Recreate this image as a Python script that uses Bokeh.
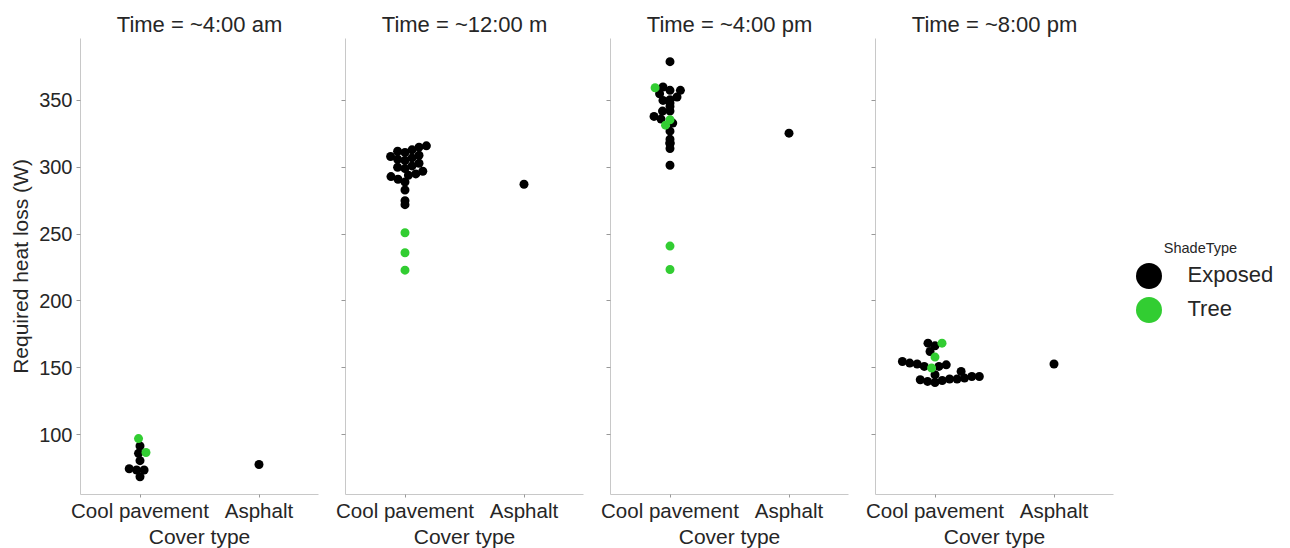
import numpy as np
from bokeh.plotting import figure
from bokeh.layouts import row
from bokeh.models import (Range1d, FixedTicker, Legend, LegendItem, Label,
                          ColumnDataSource)
from bokeh.embed import file_html
from bokeh.resources import INLINE

# ---------------- data ----------------
titles = ["Time = ~4:00 am", "Time = ~12:00 m", "Time = ~4:00 pm", "Time = ~8:00 pm"]
categories = ["Cool pavement", "Asphalt"]
shade_types = ["Exposed", "Tree"]
legend_title = "ShadeType"

cool_exposed = [
    [91.5, 86, 80.5, 74.5, 73.5, 73.5, 68.5],
    [316, 315, 313, 312, 311, 309, 308, 307, 306, 305, 303, 301, 300, 299,
     297, 295, 294, 293, 291, 289, 283, 275, 272],
    [379, 360, 357.5, 357.5, 355, 352.5, 350.5, 350, 348, 345.5, 342, 342,
     338, 336, 333, 327, 321, 318.5, 318, 317.5, 314, 301.5],
    [168.4, 166.4, 162.2, 154.7, 153.5, 152.8, 152.2, 151, 151, 147.3, 144.8,
     143.5, 143.5, 142.3, 141.6, 141.6, 141, 140.5, 139.8, 139],
]
cool_tree = [
    [97, 86.6],
    [251, 236, 223],
    [359.5, 335.5, 331.5, 241, 223.5],
    [168.4, 158, 149.8],
]
asphalt_exposed = [77.6, 287.3, 325.5, 152.8]

y_ticks = [100, 150, 200, 250, 300, 350]
y_min, y_max = 55.2, 396.3

# ---------------- style ----------------
FONT = "Liberation Sans"
TEXT = "#262626"
AXIS = "#c8c8c8"
COLORS = {"Exposed": "#000000", "Tree": "#32cd32"}
FRAME_W, FRAME_H = 238, 456
MARKER = 9
SWARM_D = 7.5


def swarm(vals, d, ypx):
    """beeswarm offsets in pixels"""
    v = np.asarray(vals, dtype=float) * ypx
    order = np.argsort(v, kind="stable")
    xs = np.zeros(len(v))
    placed = []
    for i in order:
        y = v[i]
        nb = [(px, py) for px, py in placed if abs(py - y) < d]
        cands = [0.0]
        for px, py in nb:
            dx = np.sqrt(max(d * d - (y - py) ** 2, 0))
            cands += [px - dx, px + dx]
        cands = sorted(set(round(c, 6) for c in cands), key=lambda c: (abs(c), c))
        for c in cands:
            if all((c - px) ** 2 + (y - py) ** 2 >= d * d - 1e-6 for px, py in nb):
                xs[i] = c
                break
        placed.append((xs[i], y))
    return xs


ypx = FRAME_H / (y_max - y_min)
xpx = FRAME_W / 2.0

figs = []
for k in range(4):
    first = k == 0
    p = figure(
        frame_width=FRAME_W, frame_height=FRAME_H,
        x_range=Range1d(0, 2), y_range=Range1d(y_min, y_max),
        output_backend="svg", toolbar_location=None,
        min_border_left=80 if first else 22,
        min_border_right=5 if k < 3 else 2,
        min_border_top=38, min_border_bottom=52,
        title=titles[k],
    )
    p.outline_line_color = None
    p.grid.grid_line_color = None
    p.background_fill_color = "white"
    p.border_fill_color = "white"
    p.title.text_font = FONT
    p.title.text_font_size = "22px"
    p.title.text_font_style = "normal"
    p.title.text_color = TEXT
    p.title.align = "center"
    p.title.standoff = 4

    # x axis
    xa = p.xaxis[0]
    xa.ticker = FixedTicker(ticks=[0.5, 1.5])
    xa.major_label_overrides = {0.5: categories[0], 1.5: categories[1]}
    xa.axis_label = "Cover type"
    xa.minor_tick_line_color = None

    # y axis
    ya = p.yaxis[0]
    ya.ticker = FixedTicker(ticks=y_ticks)
    ya.minor_tick_line_color = None
    if first:
        ya.axis_label = "Required heat loss (W)"
    else:
        ya.major_label_overrides = {t: "" for t in y_ticks}
        ya.major_label_standoff = 0

    for ax in (xa, ya):
        ax.axis_line_color = AXIS
        ax.major_tick_line_color = "#999999"
        ax.major_tick_in = 0
        ax.major_tick_out = 4
        ax.axis_label_text_font = FONT
        ax.axis_label_text_font_size = "21px"
        ax.axis_label_text_font_style = "normal"
        ax.axis_label_text_color = TEXT
        ax.major_label_text_font = FONT
        ax.major_label_text_color = TEXT
    xa.major_tick_out = 3
    xa.major_label_text_font_size = "20.5px"
    xa.major_label_standoff = 1
    xa.axis_label_standoff = 0
    ya.major_label_text_font_size = "20px"
    if first:
        ya.major_label_standoff = 4
        ya.axis_label_standoff = 4

    # swarm for cool pavement (both hue groups together)
    vals = list(cool_exposed[k]) + list(cool_tree[k])
    hues = ["Exposed"] * len(cool_exposed[k]) + ["Tree"] * len(cool_tree[k])
    offs = swarm(vals, SWARM_D, ypx) / xpx
    xs = 0.5 + offs
    vals = np.asarray(vals)
    hues = np.asarray(hues)
    for h in shade_types:
        m = hues == h
        p.scatter(xs[m], vals[m], size=MARKER, color=COLORS[h], line_color=None)
    # asphalt
    p.scatter([1.5], [asphalt_exposed[k]], size=MARKER,
              color=COLORS["Exposed"], line_color=None)
    figs.append(p)

# ---------------- legend panel ----------------
LW = 175
lg = figure(width=LW, height=548, output_backend="svg", toolbar_location=None,
            min_border=0, x_range=Range1d(0, 1), y_range=Range1d(0, 1))
lg.axis.visible = False
lg.grid.grid_line_color = None
lg.outline_line_color = None
lg.border_fill_color = "white"
lg.background_fill_color = "white"

FRAME_BOTTOM = 494  # page y of the (aligned) frame bottom
row_y = {"Exposed": FRAME_BOTTOM - 309.5, "Tree": FRAME_BOTTOM - 343.5}
for h in shade_types:
    # legend-only renderer: NaN position, so nothing is drawn in the plot
    src = ColumnDataSource(dict(x=[np.nan], y=[np.nan]))
    r = lg.scatter("x", "y", source=src, size=MARKER, color=COLORS[h],
                   line_color=None)
    leg = Legend(items=[LegendItem(label=h, renderers=[r])],
                 location=(0.5, row_y[h]))
    leg.label_text_font = FONT
    leg.label_text_font_size = "22px"
    leg.label_text_color = TEXT
    leg.glyph_width = 65
    leg.glyph_height = 65
    leg.label_standoff = 7
    leg.padding = 0
    leg.margin = 0
    leg.border_line_color = None
    leg.background_fill_alpha = 0
    lg.add_layout(leg)

lg.add_layout(Label(x=85, y=FRAME_BOTTOM - 249, x_units="screen", y_units="screen",
                    text=legend_title, text_align="center",
                    text_baseline="middle", text_font=FONT,
                    text_font_size="14.5px", text_color=TEXT))
figs.append(lg)

layout = row(*figs, spacing=0)
open("out.html", "w").write(file_html(layout, INLINE))
